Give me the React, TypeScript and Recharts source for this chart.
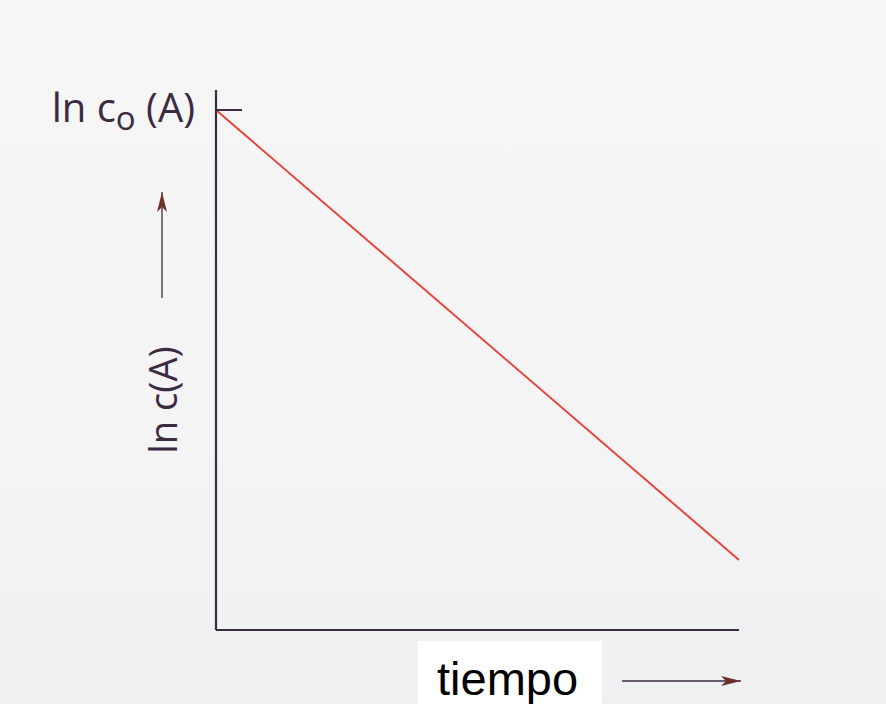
import { CartesianGrid, Customized, Line, LineChart, XAxis, YAxis } from 'recharts';

// ln c(A) falls linearly with time (first-order decay)
const times = [0, 10];
const lnConc = [26, 3.5];
const yTicks = [26];

const data = times.map((t, i) => ({ t, lnc: lnConc[i] }));

const INK = '#3a2b42';
const RED = '#e8453c';
const FONT = '"Open Sans", "DejaVu Sans", sans-serif';

function InitialTick({ x, y }: { x: number; y: number }) {
  return (
    <g>
      <line x1={x} y1={y} x2={x + 26} y2={y} stroke={INK} strokeWidth={2} />
      <text
        x={x - 21}
        y={y + 12}
        textAnchor="end"
        fill={INK}
        fontFamily={FONT}
        fontSize={40}
      >
        ln c
        <tspan fontSize={33} dy={8}>o</tspan>
        <tspan dy={-8}> (A)</tspan>
      </text>
    </g>
  );
}

function Annotations() {
  return (
    <g>
      <defs>
        <marker
          id="head"
          viewBox="0 0 20 10"
          refX="20"
          refY="5"
          markerWidth="20"
          markerHeight="10"
          markerUnits="userSpaceOnUse"
          orient="auto"
        >
          <path d="M0,0 L20,5 L0,10 L5,5 Z" fill="#6e3128" />
        </marker>
      </defs>
      {/* y axis caption with its arrow */}
      <line x1={162} y1={298} x2={162} y2={192} stroke={INK} strokeWidth={1.3} markerEnd="url(#head)" />
      <text
        x={177}
        y={400}
        transform="rotate(-90, 177, 400)"
        textAnchor="middle"
        fill={INK}
        fontFamily={FONT}
        fontSize={38}
      >
        ln c(A)
      </text>
      {/* x axis caption */}
      <rect x={418} y={641} width={184} height={63} fill="#ffffff" />
      <text x={437} y={695} fill="#000000" fontFamily='"Liberation Sans", Arial, sans-serif' fontSize={47}>
        tiempo
      </text>
      <line x1={622} y1={681} x2={741} y2={681} stroke={INK} strokeWidth={1.3} markerEnd="url(#head)" />
    </g>
  );
}

export default function App() {
  return (
    <div
      style={{
        position: 'absolute',
        left: 0,
        top: 0,
        width: 886,
        height: 704,
        background: 'linear-gradient(180deg, #f6f6f6 0%, #f4f4f5 60%, #eff0f2 100%)',
      }}
    >
      <LineChart width={886} height={704} data={data} margin={{ top: 90, right: 147, bottom: 64, left: 16 }}>
        <CartesianGrid stroke="none" />
        <XAxis
          dataKey="t"
          type="number"
          domain={[0, 10]}
          height={10}
          tick={false}
          tickLine={false}
          axisLine={{ stroke: INK, strokeWidth: 2.2 }}
        />
        <YAxis
          type="number"
          domain={[0, 27]}
          ticks={yTicks}
          width={200}
          tickSize={0}
          tickMargin={0}
          tickLine={false}
          tick={(p: any) => <InitialTick x={p.x} y={p.y} />}
          axisLine={{ stroke: INK, strokeWidth: 2.2 }}
        />
        <Line
          type="linear"
          dataKey="lnc"
          stroke={RED}
          strokeWidth={2}
          dot={false}
          isAnimationActive={false}
        />
        <Customized component={Annotations} />
      </LineChart>
    </div>
  );
}
